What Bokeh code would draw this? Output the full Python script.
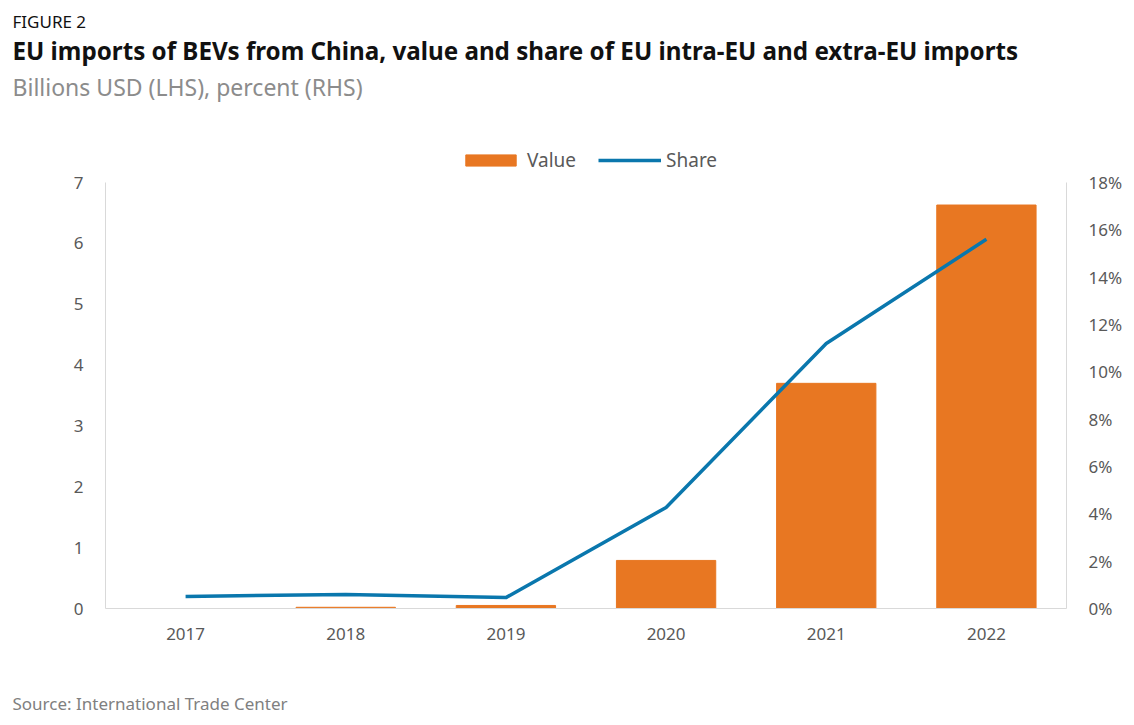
from bokeh.plotting import figure
from bokeh.models import (FactorRange, Range1d, LinearAxis, FixedTicker, PrintfTickFormatter,
                          Legend, LegendItem, Title, ColumnDataSource)
from bokeh.embed import file_html
from bokeh.resources import INLINE

years = ["2017", "2018", "2019", "2020", "2021", "2022"]
value_busd = [0.0, 0.02, 0.05, 0.79, 3.70, 6.63]
share_pct = [0.51, 0.59, 0.46, 4.27, 11.2, 15.6]
left_ticks = [0, 1, 2, 3, 4, 5, 6, 7]
right_ticks = [0, 2, 4, 6, 8, 10, 12, 14, 16, 18]

FONT = "Noto Sans"
ORANGE = "#e87722"
BLUE = "#0a77ad"
TICK = "#595959"

FRAME_H = 461          # frame extends above the axes' top so the legend sits inside it
AXIS_PX = 426          # pixels spanned by 0..7 / 0..18
src = ColumnDataSource(dict(year=years, value=value_busd, share=share_pct))

p = figure(frame_width=961, frame_height=FRAME_H,
           x_range=FactorRange(factors=years, range_padding=0),
           y_range=Range1d(0, 7 * FRAME_H / AXIS_PX), output_backend="svg", toolbar_location=None,
           min_border_left=105, min_border_right=60, min_border_top=146, min_border_bottom=0)
p.extra_y_ranges = {"share": Range1d(0, 18 * FRAME_H / AXIS_PX)}

bars = p.vbar(x="year", top="value", width=0.62, source=src, color=ORANGE)
line = p.line(x="year", y="share", source=src, y_range_name="share", line_color=BLUE, line_width=3.5)

p.outline_line_color = None
p.xgrid.grid_line_color = None
p.ygrid.grid_line_color = None

p.yaxis.ticker = FixedTicker(ticks=left_ticks)
p.yaxis.bounds = (0, 7)
right = LinearAxis(y_range_name="share", ticker=FixedTicker(ticks=right_ticks),
                   formatter=PrintfTickFormatter(format="%d%%"), bounds=(0, 18))
p.add_layout(right, "right")

for ax in p.axis:
    ax.axis_line_color = "#d9d9d9"
    ax.major_tick_line_color = None
    ax.minor_tick_line_color = None
    ax.major_tick_out = 0
    ax.major_tick_in = 0
    ax.minor_tick_out = 0
    ax.major_label_text_font = FONT
    ax.major_label_text_font_size = "17px"
    ax.major_label_text_color = TICK
p.xaxis.major_label_standoff = 19
p.yaxis[0].major_label_standoff = 22
right.major_label_standoff = 22

legend = Legend(items=[LegendItem(label="Value", renderers=[bars]),
                       LegendItem(label="Share", renderers=[line])],
                orientation="horizontal", location=(354, 435),
                label_text_font=FONT, label_text_font_size="19px", label_text_color=TICK,
                glyph_width=63, glyph_height=14, label_standoff=5, spacing=22,
                border_line_color=None, background_fill_alpha=0, padding=0, margin=0)
p.add_layout(legend, "center")

# top panels: first added sits closest to the frame
p.add_layout(Title(text=" ", text_font_size="1px", standoff=33.6), "above")
sub = Title(text="Billions USD (LHS), percent (RHS)", text_font=FONT, text_font_size="23px",
            text_font_style="normal", text_color="#8c8c8c", align="left", offset=-93, standoff=15.6)
p.add_layout(sub, "above")
ttl = Title(text="EU imports of BEVs from China, value and share of EU intra-EU and extra-EU imports",
            text_font=FONT, text_font_size="24.2px", text_font_style="bold", text_color="#111111",
            align="left", offset=-93, standoff=-13.7)
p.add_layout(ttl, "above")
fig = Title(text="FIGURE 2", text_font=FONT, text_font_size="17px", text_font_style="normal",
            text_color="#111111", align="left", offset=-93, standoff=13.8)
p.add_layout(fig, "above")

p.add_layout(Title(text=" ", text_font_size="1px", standoff=43.8), "below")
source_t = Title(text="Source: International Trade Center", text_font=FONT, text_font_size="17px",
                 text_font_style="normal", text_color="#808080", align="left", offset=-93, standoff=0)
p.add_layout(source_t, "below")

open("out.html", "w").write(file_html(p, INLINE))
